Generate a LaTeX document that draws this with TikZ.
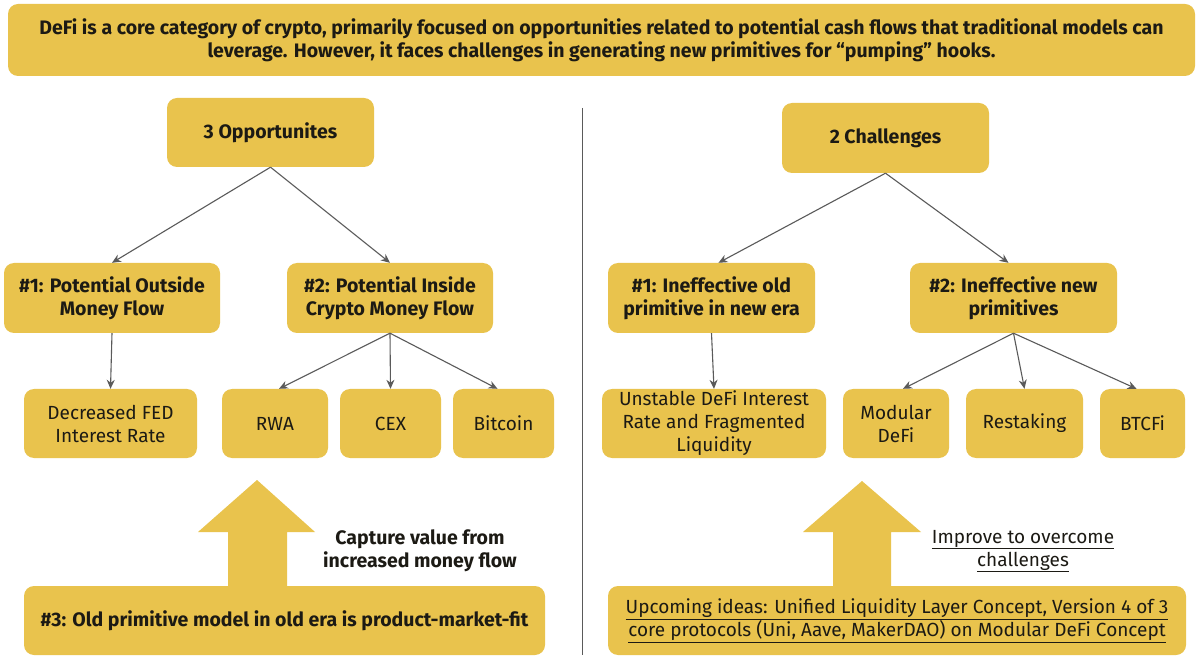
\documentclass[tikz,border=0pt]{standalone}
\usepackage{fontspec}
\setmainfont{Fira Sans}
\usetikzlibrary{arrows.meta}
\definecolor{gold}{HTML}{E9C34D}
\definecolor{ink}{HTML}{1C1A14}
\definecolor{wire}{HTML}{5A5A5A}

\begin{document}
\begin{tikzpicture}[x=1pt,y=-1pt,
  card/.style={fill=gold, rounded corners=10pt, align=center, inner sep=0pt, text=ink,
    font=\fontsize{19}{23}\selectfont},
  head/.style={card, font=\fontsize{19.5}{23}\selectfont\bfseries},
  link/.style={draw=wire, line width=1.1pt, -{Stealth[length=9pt,width=8pt]}},
  note/.style={align=center, text=ink, inner sep=0pt}]

	\useasboundingbox[fill=white] (0,0) rectangle (1200,668);

	% banner
	\node[head, minimum width=1187pt, minimum height=72pt] (banner) at (601.5,40)
		{DeFi is a core category of crypto, primarily focused on opportunities related to potential cash flows that traditional models can\\
		 leverage. However, it faces challenges in generating new primitives for ``pumping'' hooks.};

	% left half: opportunities
	\node[head, minimum width=207pt, minimum height=69pt] (opp) at (270.5,132.5) {3 Opportunites};
	\node[head, minimum width=216pt, minimum height=70pt] (opp1) at (112,298) {\#1: Potential Outside\\Money Flow};
	\node[head, minimum width=206pt, minimum height=70pt] (opp2) at (390,298) {\#2: Potential Inside\\Crypto Money Flow};

	\node[card, minimum width=173pt, minimum height=69pt] (fed) at (110.5,423.5) {Decreased FED\\Interest Rate};
	\node[card, minimum width=106pt, minimum height=69pt] (rwa) at (275,423.5) {RWA};
	\node[card, minimum width=101pt, minimum height=69pt] (cex) at (390.5,423.5) {CEX};
	\node[card, minimum width=101pt, minimum height=69pt] (btc) at (503.5,423.5) {Bitcoin};

	\node[head, minimum width=521pt, minimum height=69pt] (opp3) at (284.5,620.5)
		{\#3: Old primitive model in old era is product-market-fit};

	\draw[link] (opp.south) -- (opp1.north);
	\draw[link] (opp.south) -- (opp2.north);
	\draw[link] (opp1.south) -- (fed.north);
	\draw[link] (opp2.south) -- ([xshift=4pt]rwa.north);
	\draw[link] (opp2.south) -- (cex.north);
	\draw[link] (opp2.south) -- ([xshift=-6pt]btc.north);

	\fill[gold] (228,590) -- (228,532) -- (198,532) -- (257,480) -- (315,532) -- (287,532) -- (287,590) -- cycle;
	\node[note, font=\fontsize{19.5}{23}\selectfont\bfseries] (capture) at (420,551) {Capture value from\\increased money flow};

	% divider
	\draw[wire, line width=1pt] (582,108) -- (582,655);

	% right half: challenges
	\node[head, minimum width=207pt, minimum height=70pt] (chal) at (885.5,138) {2 Challenges};
	\node[head, minimum width=207pt, minimum height=70pt] (chal1) at (711.5,298) {\#1: Ineffective old\\primitive in new era};
	\node[head, minimum width=207pt, minimum height=70pt] (chal2) at (1013.5,298) {\#2: Ineffective new\\primitives};

	\node[card, minimum width=224pt, minimum height=69pt] (unstable) at (714,423.5)
		{Unstable DeFi Interest\\Rate and Fragmented\\Liquidity};
	\node[card, minimum width=106pt, minimum height=69pt] (modular) at (896,423.5) {Modular\\DeFi};
	\node[card, minimum width=117pt, minimum height=69pt] (restake) at (1024.5,423.5) {Restaking};
	\node[card, minimum width=85pt, minimum height=69pt] (btcfi) at (1142.5,423.5) {BTCFi};

	\node[card, minimum width=578pt, minimum height=69pt] (ideas) at (897,620.5)
		{\underline{Upcoming ideas: Unified Liquidity Layer Concept, Version 4 of 3}\\
		 \underline{core protocols (Uni, Aave, MakerDAO) on Modular DeFi Concept}};

	\draw[link] (chal.south) -- ([xshift=7pt]chal1.north);
	\draw[link] (chal.south) -- ([xshift=-5pt]chal2.north);
	\draw[link] (chal1.south) -- (unstable.north);
	\draw[link] (chal2.south) -- ([xshift=7pt]modular.north);
	\draw[link] (chal2.south) -- (restake.north);
	\draw[link] (chal2.south) -- ([xshift=-6pt]btcfi.north);

	\fill[gold] (833,590) -- (833,532) -- (803,532) -- (862,481) -- (921,532) -- (891,532) -- (891,590) -- cycle;
	\node[note, font=\fontsize{19}{23}\selectfont] (improve) at (1023,551) {\underline{Improve to overcome}\\\underline{challenges}};

\end{tikzpicture}
\end{document}
